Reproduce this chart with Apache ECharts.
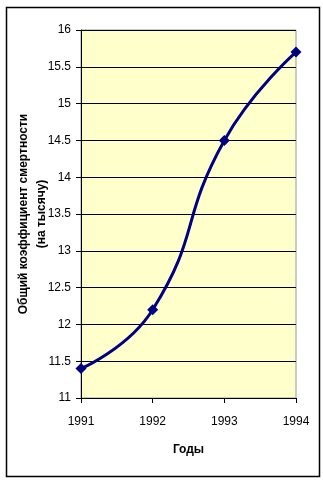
<!DOCTYPE html>
<html>
<head>
<meta charset="utf-8">
<script src="https://cdn.jsdelivr.net/npm/echarts@6/dist/echarts.min.js"></script>
<style>html,body{margin:0;padding:0;background:#fff;}#c{width:323px;height:481px;}</style>
</head>
<body>
<div id="c"></div>
<script>
const years = ['1991', '1992', '1993', '1994'];
const mortality = [11.4, 12.2, 14.5, 15.7];
const yTitle = 'Общий коэффициент смертности\n(на тысячу)';
const xTitle = 'Годы';

const chart = echarts.init(document.getElementById('c'), null, {renderer: 'canvas'});
chart.setOption({
  animation: false,
  backgroundColor: '#ffffff',
  graphic: [{
    type: 'rect', left: 4, top: 5, shape: {width: 313, height: 469},
    style: {fill: 'none', stroke: '#000', lineWidth: 1.5}, silent: true
  }],
  grid: {
    left: 81, right: 27, top: 30, bottom: 83,
    outerBoundsMode: 'none', containLabel: false,
    show: true, backgroundColor: '#FFFFCC', borderColor: '#999999', borderWidth: 1
  },
  xAxis: {
    type: 'category', data: years, boundaryGap: false,
    name: xTitle, nameLocation: 'middle', nameGap: 46, nameMoveOverlap: false,
    nameTextStyle: {fontFamily: 'Liberation Sans', fontWeight: 'bold', fontSize: 12, color: '#000'},
    axisLine: {lineStyle: {color: '#000', width: 1}},
    axisTick: {show: true, alignWithLabel: true, length: 5, lineStyle: {color: '#000'}},
    axisLabel: {margin: 18, fontFamily: 'Liberation Sans', fontSize: 12, color: '#000'},
    splitLine: {show: false}
  },
  yAxis: {
    type: 'value', min: 11, max: 16, interval: 0.5,
    name: yTitle, nameLocation: 'middle', nameGap: 30, nameRotate: 90, nameMoveOverlap: false,
    nameTextStyle: {fontFamily: 'Liberation Sans', fontWeight: 'bold', fontSize: 12, color: '#000', lineHeight: 18},
    axisLine: {show: true, lineStyle: {color: '#000', width: 1}},
    axisTick: {show: true, length: 5, lineStyle: {color: '#000'}},
    axisLabel: {margin: 10, fontFamily: 'Liberation Sans', fontSize: 12, color: '#000'},
    splitLine: {show: true, lineStyle: {color: '#000', width: 1}}
  },
  series: [{
    type: 'line', data: mortality, smooth: 0.5,
    symbol: 'diamond', symbolSize: 11,
    lineStyle: {color: '#000080', width: 3},
    itemStyle: {color: '#000080'}
  }]
});
</script>
</body>
</html>
